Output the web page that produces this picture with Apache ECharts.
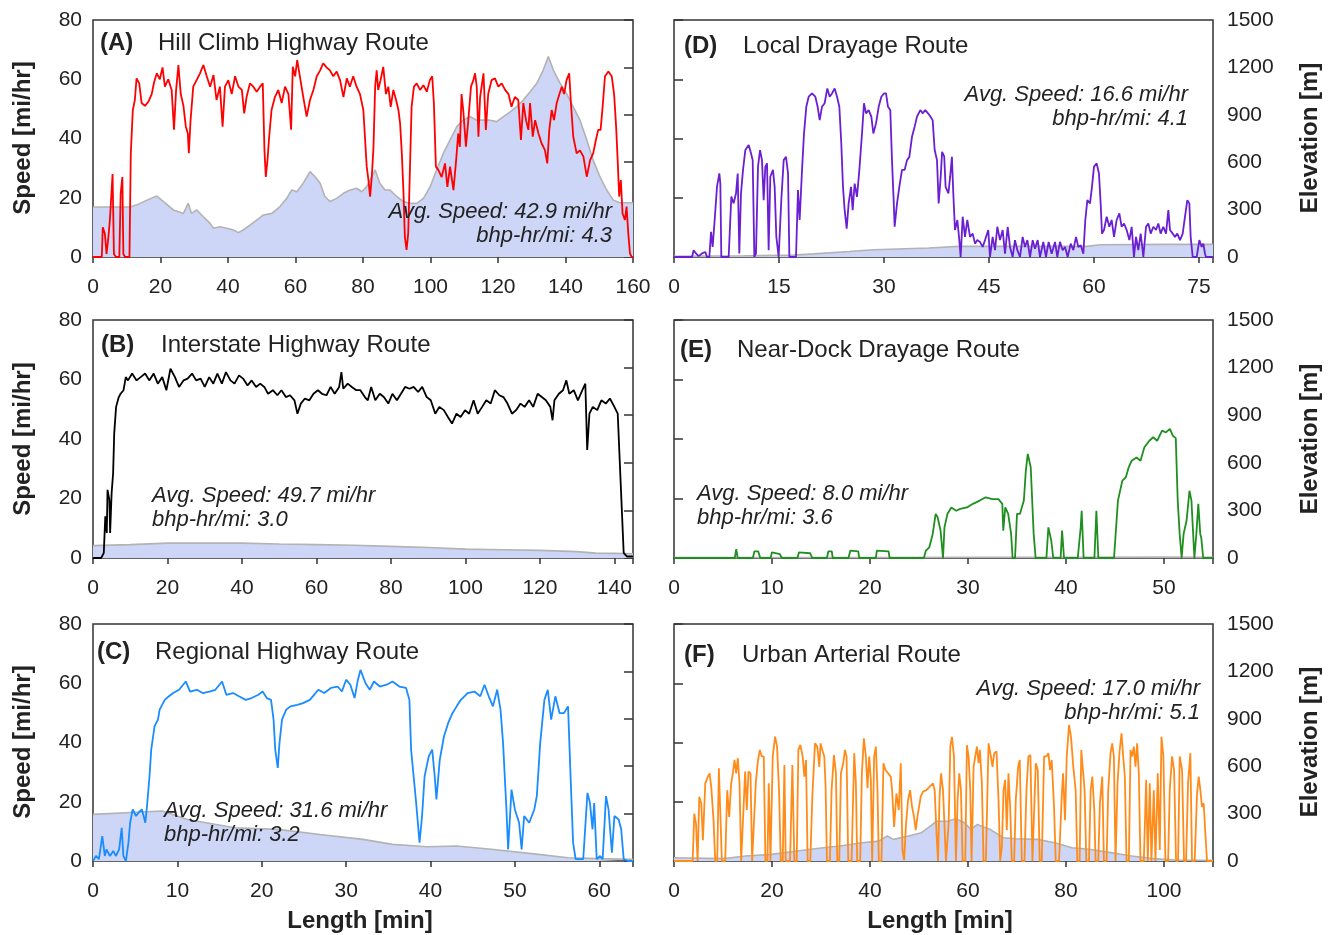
<!DOCTYPE html>
<html><head><meta charset="utf-8">
<script src="https://cdn.jsdelivr.net/npm/echarts@6/dist/echarts.min.js"></script>
<style>html,body{margin:0;padding:0;background:#fff}#c{width:1333px;height:935px}</style>
</head><body><div id="c"></div>
<script>
// ---------------- DATA (length [min], speed [mi/hr]) / (length [min], elevation [m]) ----------------
const speedA = [[0,0],[2.6,0],[2.9,10],[3.5,8],[4,1],[4.5,6],[5,12.5],[5.8,28],[6.2,1],[6.8,0],[7.8,0],[8.2,21.5],[8.7,27],[9,1],[9.5,0],[10.8,0],[11.2,35],[11.8,49.6],[12.4,53],[12.9,60.3],[13.7,58.6],[14.4,52],[15.4,51],[16.4,52.4],[17.4,55],[18.1,59],[18.9,62],[19.8,60],[20.6,64],[21.3,57.5],[22.3,60],[23.3,56.4],[24,43],[24.6,56],[25.3,64.8],[26,55],[26.8,51],[27.5,44],[28.1,41.7],[28.4,35],[28.9,46],[29.7,57.5],[30.7,59.7],[31.7,62],[32.7,64.8],[33.7,61],[34.7,57.5],[35.7,61.4],[36.6,53],[37.6,57.5],[38.4,44],[39.1,57.5],[40.1,59.7],[41.1,55],[42.1,61],[43.1,57.5],[44.1,56.4],[44.8,48.5],[45.5,54],[46.5,58.6],[47.5,57.5],[48.5,55.8],[49.5,57.5],[50.3,58.6],[50.8,36],[51.2,27],[51.7,32.7],[52.2,40.6],[52.9,49.6],[53.9,54],[54.9,56.4],[55.9,52],[56.9,57.5],[57.9,55],[58.7,43],[59.2,64.2],[59.9,61],[60.5,66.5],[61.3,61],[62.3,54],[63.3,47.4],[64.3,53],[65.3,56.4],[66.3,61],[67.3,63],[68.2,65.4],[69.2,64],[70.2,63],[71.2,61],[72.2,62.6],[73.2,59.7],[74.2,54],[75.2,60.3],[76.1,57.5],[77.1,61],[78.1,57.5],[79.1,55],[80.1,49.6],[81.1,30.5],[81.6,26],[82.1,20.4],[82.6,27],[83.1,37],[83.6,57.5],[84.05,63],[84.5,56.4],[85.2,59.7],[86,64.2],[86.8,55],[87.5,57.5],[88.2,50.7],[89,56.4],[89.8,53],[90.5,49.6],[91,45],[91.5,35],[92,21.5],[92.4,6.9],[92.9,2.4],[93.4,8],[93.9,29.4],[94.4,50.7],[95.1,57.5],[95.9,58.6],[96.9,56.4],[97.9,58],[98.9,55.8],[99.8,59.7],[100.5,61],[101,52],[101.6,30.5],[102.3,29.4],[103.3,27],[104.3,31.6],[105,23.7],[105.8,30.5],[106.8,22.6],[107.6,32.7],[108.2,41.7],[108.7,37.2],[109.2,55],[109.7,49.6],[110.5,37.2],[111.2,46.2],[112,57.5],[112.7,59.7],[113.2,62],[113.7,57.5],[114.2,40.6],[114.7,54],[115.7,62],[116.4,42.9],[117.1,55],[118.1,59.7],[119.1,60.3],[120.1,57.5],[121.1,58.6],[122.1,56.4],[123.1,55],[124,50.7],[125,54],[126,53],[126.8,39.5],[127.5,52],[128.3,46.2],[129,42.9],[129.5,52],[130.3,40.6],[131,46.2],[132,41.7],[132.9,38.4],[133.9,36.1],[134.6,31.6],[135.2,42.9],[135.9,49.6],[136.6,46.2],[137.4,52],[138.2,55],[138.9,57.5],[139.6,55],[140.3,59.7],[141.1,62],[141.6,52],[142.3,40.6],[143.3,35],[144.3,36],[145.3,33.9],[146.3,27.1],[147.3,32.7],[148.2,35],[149,39.5],[149.7,42.9],[150.4,42.9],[151,50.7],[151.7,61],[152.7,62.6],[153.7,61],[154.4,55],[155,44],[155.5,31.6],[155.9,20.4],[156.4,26],[156.9,14.7],[157.6,12.5],[158.1,17],[158.6,8],[159.1,1.2],[159.6,0],[160,0]];
const elevA = [[0,316],[11,316],[13,330],[16,360],[18.9,386],[20.9,351],[23.8,298],[26.8,276],[28.2,340],[29.2,276],[30.7,298],[32.7,255],[34.7,213],[35.7,182],[37.6,192],[39.6,182],[41.6,171],[43.1,154],[44.5,171],[46.5,202],[48.5,234],[50.5,266],[53,276],[55.4,319],[57.4,371],[58.9,424],[60.4,413],[62.3,467],[64.3,540],[65.8,508],[67.3,467],[68.7,383],[70.2,351],[72.2,371],[74.2,403],[76.2,424],[78.1,435],[79.6,413],[81.1,445],[83.6,551],[85,467],[86.5,424],[88,424],[90,383],[92,351],[93.9,340],[95.9,340],[97.9,371],[99.9,445],[101.8,551],[103.8,656],[105.8,741],[107.8,825],[109.7,866],[111.7,889],[113.7,866],[115.7,866],[117.6,866],[119.6,857],[121.6,889],[123.6,919],[125.5,950],[127.5,994],[129.5,1046],[131.5,1099],[133.4,1183],[134.9,1268],[136.4,1183],[138.4,1099],[140.3,1035],[142.3,950],[144.3,866],[146.3,741],[148.2,613],[150.2,508],[152.2,424],[154.2,360],[156.1,343],[160,343]];

const speedB = [[0,0],[2.2,0],[2.9,1.7],[3.3,14],[3.7,8.4],[3.9,22.9],[4.4,19.5],[4.6,8.4],[5,21.8],[5.4,28.5],[5.7,41.9],[6.2,50.8],[6.9,54],[7.4,55.2],[8.2,56.4],[8.8,60.8],[9.4,59.7],[10.5,62],[11.7,59.7],[12.8,60.8],[14,62],[15.1,59.7],[16.3,62],[17.4,58.6],[18.6,60.8],[19.7,56.4],[20.8,63.6],[22,60.8],[23.1,57.5],[24.3,59.7],[25.4,60.3],[26.6,62],[27.7,59.7],[28.9,60.3],[30,57.5],[31.2,60.8],[32.3,58.6],[33.4,62],[34.6,58.6],[35.7,62.5],[36.9,59.7],[38,58.6],[39.2,61.4],[40.3,60.3],[41.5,58],[42.6,59.7],[43.8,57.5],[44.9,58.6],[46,57.5],[47,55.2],[48.3,56.4],[49.5,54.7],[50.6,56.4],[51.8,54.1],[52.9,54.7],[54.1,53],[54.9,48.5],[55.8,51.9],[56.9,53.6],[58.1,53],[59.2,55.2],[60.4,56.4],[61.5,55.2],[62.7,54.7],[63.8,57.5],[64.9,55.2],[66.1,57.5],[66.7,62.5],[67.2,56.9],[68.4,58.6],[69.5,57.5],[70.7,56.4],[71.8,56.4],[73,54.1],[73.8,53],[74.7,57.5],[75.8,53],[77,55.2],[78.1,54.1],[79.3,51.9],[80.4,55.2],[81.6,53],[82.7,55.2],[83.8,57.5],[85,56.9],[86.1,57.5],[87.3,55.8],[88.4,57.5],[89.6,54.1],[90.7,53],[91.9,48.5],[93,50.8],[94.2,49.7],[95.3,47.4],[96.4,45.2],[97.6,48.5],[98.7,47.4],[99.9,49.7],[101,48.5],[102.2,53],[103.3,48.5],[104.5,50.8],[105.6,53],[106.8,51.9],[107.9,56.4],[109.1,54.7],[110.2,54.1],[111.3,51.9],[112.5,48.5],[113.6,49.7],[114.8,51.9],[115.9,50.8],[117.1,53],[118.2,50.8],[119.4,55.2],[120.5,54.1],[121.6,53],[122.8,50.8],[123.4,46.3],[123.9,53],[125.1,55.2],[126.2,56.4],[127.1,59.7],[127.9,55.2],[129.1,56.4],[130.2,53],[131.4,56.4],[132.2,58.6],[132.7,36.3],[133.3,48.5],[134.2,50.8],[135.4,49.7],[136.5,53],[137.7,51.9],[138.8,53.6],[140,50.8],[140.9,48.5],[141.7,25],[142.5,1.7],[143.4,0.5],[144.6,0.5],[145,0.5]];
const elevB = [[0,78],[10,84],[20,94],[30,94],[40,94],[50,88],[60,84],[70,80],[80,73],[90,66],[100,56],[110,52],[120,48],[130,40],[135,31],[140,29],[145,27]];

const speedC = [[0,0],[0.35,1.7],[0.7,0.6],[1.1,8.4],[1.4,1.7],[1.6,3.9],[2,1.7],[2.4,3.4],[2.7,1.7],[3.1,3.9],[3.4,11.2],[3.6,1.7],[3.9,0],[4.2,6.2],[4.4,12.9],[4.7,17.4],[5.1,15.2],[5.4,16.3],[5.8,17.4],[6.2,12.9],[6.4,18.5],[6.7,28.6],[6.9,37.6],[7.3,45.5],[7.7,47.7],[7.9,51.1],[8.5,54.4],[9,55.6],[9.5,56.7],[10.2,57.8],[11,60.6],[11.5,57.2],[12.3,57.8],[13,56.7],[13.8,57.2],[14.5,57.8],[15.3,60.6],[15.8,56.1],[16.6,56.7],[17.3,55.6],[18.1,54.4],[18.8,55],[19.6,56.1],[20.1,57.2],[20.6,55],[21.1,54.4],[21.4,47.7],[21.6,37.6],[21.9,31.4],[22.1,39.8],[22.4,47.7],[22.9,51.1],[23.4,52.2],[24.2,52.7],[24.9,53.3],[25.7,54.4],[26.2,56.1],[26.7,57.8],[27.4,56.7],[28.2,58.4],[29,58.9],[29.5,57.2],[30,61.2],[30.5,59.5],[31,55],[31.4,61.2],[31.7,64.5],[32.3,60],[32.8,57.8],[33.3,60.6],[34,58.9],[34.8,59.5],[35.5,60.6],[36.3,58.9],[37.1,58.4],[37.5,54.4],[37.7,37.6],[38,28.6],[38.3,19.6],[38.7,6.2],[39,15.2],[39.3,28.6],[39.8,35.4],[40.2,37.6],[40.5,28.6],[40.7,20.8],[41.1,34.2],[41.6,42.1],[42.1,46.6],[42.6,49.9],[43.1,52.2],[43.6,54.4],[44.4,56.7],[45.2,57.2],[45.9,55.6],[46.4,59.5],[46.9,55.6],[47.4,52.2],[47.9,57.8],[48.3,51.1],[48.6,39.8],[49,17.4],[49.2,3.9],[49.6,24.1],[50,17.4],[50.5,12.9],[50.8,3.9],[51.1,15.2],[51.7,12.9],[52.3,17.4],[52.6,21.9],[53,39.8],[53.5,54.4],[53.9,57.8],[54.3,47.7],[54.8,55.6],[55.3,49.9],[55.8,49.9],[56.3,52.2],[56.6,28.6],[56.9,6.2],[57.2,0.6],[58.1,0.6],[58.6,23],[58.9,19.6],[59.2,10.7],[59.4,19.6],[59.7,0.6],[60.1,1.7],[60.4,0.6],[60.8,21.9],[61.1,17.4],[61.5,2.8],[61.8,15.2],[62.3,14],[62.6,10.7],[62.9,0.6],[63.4,0],[64,0]];
const elevC = [[0,295],[8.2,316],[11.2,263],[16.8,210],[21.9,200],[26.9,168],[32,137],[35.5,105],[39.6,90],[43.1,95],[47.2,74],[52.8,42],[56.3,21],[60,15],[64,11]];

const speedD = [[0,0],[2.57,0],[2.81,2.3],[3.14,1.2],[3.52,0.3],[4,1.2],[4.48,1.7],[4.71,0],[5.05,0],[5.29,8.5],[5.52,3.4],[5.81,12.5],[6.14,23.7],[6.48,28.2],[6.62,24.8],[6.76,0],[7.81,0],[8.19,20.4],[8.52,18.1],[8.86,21.5],[9.1,28.2],[9.33,1.2],[9.57,21.5],[9.86,29.4],[10.19,36.1],[10.67,37.8],[11,35],[11.24,32.7],[11.48,0],[11.71,1.2],[12,30.5],[12.29,36.1],[12.57,32.7],[12.81,19.2],[13.05,30.5],[13.29,31.6],[13.52,2.3],[13.76,27.1],[14.14,29.4],[14.38,23.7],[14.62,6.8],[14.95,0],[15.33,19.2],[15.67,32.7],[16,33.8],[16.29,28.2],[16.48,0],[17.43,0],[17.71,22.6],[17.95,12.5],[18.29,29.4],[18.57,41.7],[18.9,50.7],[19.24,54.1],[19.71,55.2],[20.19,54.1],[20.52,50.7],[20.81,46.2],[21.14,50.7],[21.52,51.9],[21.9,56.9],[22.24,54.1],[22.57,55.2],[22.95,56.9],[23.29,54.1],[23.62,50.7],[23.9,38.3],[24.14,23.7],[24.38,15.8],[24.67,9.6],[24.95,18.1],[25.29,23.7],[25.52,15.8],[25.81,24.8],[26.14,20.3],[26.48,29.4],[26.86,41.7],[27.14,51.9],[27.43,48.5],[27.81,49.6],[28.19,47.4],[28.48,41.7],[28.86,45.1],[29.24,50.7],[29.62,54.1],[30,55.2],[30.29,55.2],[30.57,50.7],[30.9,49.6],[31.14,32.7],[31.38,19.2],[31.52,10.2],[31.86,18.1],[32.19,23.7],[32.57,29.4],[32.95,29.4],[33.29,32.7],[33.62,33.8],[34,40.6],[34.38,44],[34.71,47.4],[35.19,49.6],[35.52,48.5],[35.9,49.6],[36.29,48.5],[36.62,47.4],[36.95,46.2],[37.24,36.1],[37.57,32.7],[37.81,18.1],[38.1,27.1],[38.3,35.5],[38.6,34],[38.8,23.7],[39.2,21.5],[39.45,27.1],[39.7,33.8],[39.9,21.5],[40.14,9.1],[40.48,12.5],[40.76,5.7],[40.95,0],[41.24,13.6],[41.57,6.8],[41.9,12.5],[42.29,6.8],[42.67,7.9],[43,4.5],[43.33,5.7],[43.71,5.1],[44.1,3.4],[44.43,5.7],[44.9,9.1],[45.14,0],[45.52,6.8],[45.86,2.3],[46.19,10.2],[46.57,5.7],[46.95,9.1],[47.29,1.1],[47.67,10.2],[48,3.4],[48.38,0],[48.71,5.7],[49.05,2.3],[49.43,0],[49.81,6.8],[50.14,3.4],[50.48,5.7],[50.86,0],[51.24,5.7],[51.57,2.8],[51.95,5.7],[52.29,0],[52.76,5.1],[53.14,0],[53.52,5.1],[53.95,1.1],[54.43,5.1],[54.76,0],[55.14,5.1],[55.52,2.3],[55.86,3.4],[56.24,0],[56.67,4.5],[57.05,2.3],[57.43,6.8],[57.76,3.4],[58.1,4],[58.48,1.1],[58.76,12.5],[59.05,19.2],[59.43,18.1],[59.71,23.7],[60,30.5],[60.38,31.6],[60.71,28.2],[60.95,18.1],[61.14,7.9],[61.43,9.1],[61.81,13.6],[62.19,10.2],[62.52,12.5],[62.86,6.8],[63.24,12.5],[63.62,14.7],[63.95,10.2],[64.29,11.3],[64.67,9.1],[65.05,5.7],[65.38,10.2],[65.71,0],[66,6.8],[66.33,2.3],[66.67,7.9],[67.05,0],[67.43,10.2],[67.76,11.3],[68.1,7.9],[68.48,10.2],[68.86,9.1],[69.19,11.3],[69.52,7.9],[69.9,10.2],[70.29,7.9],[70.62,15.8],[70.86,9.1],[71.24,7.9],[71.57,6.8],[71.9,7.9],[72.29,5.7],[72.67,7.9],[73,13.6],[73.33,19.2],[73.62,18.1],[73.81,6.8],[74.1,0],[74.67,0],[75.05,5.7],[75.38,3.4],[75.62,4.5],[75.86,1.1],[76,0],[77,0]];
const elevD = [[0,5],[10,8],[17,12],[20,20],[25,35],[28.5,46],[33,52],[36.4,57],[40.7,67],[50,67],[59,67],[60.8,78],[70,80],[77,80]];

const speedE = [[0,0],[6.2,0],[6.35,3],[6.5,0],[8.05,0],[8.2,2.2],[8.6,2.2],[8.8,0],[9.85,0],[10,1.9],[10.8,1.3],[11,0],[12.6,0],[12.75,1.9],[13.9,1.6],[14.1,0],[15.6,0],[15.75,2.2],[16.1,2.2],[16.2,0],[17.8,0],[18,2.5],[18.8,2.2],[18.9,0],[20.6,0],[20.7,2.5],[21.9,2.2],[22,0],[25.5,0],[25.7,2.5],[26.05,3.6],[26.4,8.1],[26.7,14.8],[26.9,13.7],[27.2,9.2],[27.45,0],[27.6,10.3],[27.9,14.8],[28.3,17],[28.8,15.9],[29.2,16.5],[29.9,17],[30.5,18.2],[31.2,19.3],[31.8,20.4],[32.5,19.8],[33.1,19.8],[33.5,18.2],[33.6,9.2],[33.8,17],[34.1,14.8],[34.4,8.1],[34.55,0],[34.8,0],[35,14.8],[35.3,14.8],[35.7,19.3],[35.9,29.4],[36.1,35],[36.4,30.5],[36.7,8.1],[36.9,0],[38,0],[38.2,10.3],[38.5,5.8],[38.7,0],[39.45,0],[39.6,9.2],[39.8,0],[41.2,0],[41.5,10.3],[41.6,15.9],[41.8,0],[42.9,0],[43.1,15.9],[43.3,0],[44.9,0],[45.3,19.3],[45.75,26],[46.1,27.1],[46.4,30.5],[46.7,32.7],[47.2,33.8],[47.6,32.7],[48,37.2],[48.5,39.4],[48.9,40.6],[49.3,39.4],[49.8,42.8],[50.2,42.2],[50.6,43.4],[50.9,41.1],[51.2,40.3],[51.4,19.3],[51.6,8.1],[51.8,0],[52,8.1],[52.3,12.5],[52.6,22.6],[52.8,19.3],[53.1,0],[53.3,8.1],[53.5,18.2],[53.7,8.1],[53.8,6.9],[54,0],[55,0]];
const elevE = [[0,3],[20,3],[30,5],[40,5],[50,6],[55,5]];

const speedF = [[0,0],[3.8,0],[4.14,16],[4.48,12.7],[4.82,0],[5.16,21.7],[5.56,19.5],[5.9,7],[6.38,26.2],[6.92,28.5],[7.26,29.6],[7.6,25.1],[8.07,13.8],[8.41,0],[8.82,0],[9.16,31.3],[9.5,13.8],[9.77,0],[10.45,0],[10.86,23.9],[11.26,14.9],[11.67,26.2],[12.01,29.6],[12.35,34.1],[12.69,29.6],[13.03,34.7],[13.37,26.2],[13.71,0],[14.11,0],[14.52,30.2],[14.86,17.2],[15.2,30.2],[15.61,29.6],[15.95,0],[16.29,0],[16.69,26.2],[17.1,33.5],[17.51,37.5],[17.91,35.3],[18.32,35.3],[18.66,0],[19.07,0],[19.34,26.2],[19.68,0],[20.15,35.3],[20.63,42],[21.03,38.6],[21.44,23.9],[21.78,0],[22.19,0],[22.53,32.4],[22.8,0],[23.68,0],[24.16,32.4],[24.56,0],[25.04,0],[25.38,37.5],[25.78,39.2],[26.26,35.3],[26.6,28.5],[26.94,34.1],[27.28,0],[27.82,0],[28.23,21.7],[28.77,39.7],[29.25,38.6],[29.65,31.8],[29.92,39.7],[30.26,37.5],[30.67,35.3],[30.94,25.1],[31.21,0],[31.82,0],[32.16,23.9],[32.64,35.8],[33.05,29.6],[33.32,0],[33.73,0],[34.06,29.6],[34.54,33],[34.88,37.5],[35.22,35.3],[35.56,0],[36.24,0],[36.78,36.4],[37.12,26.2],[37.39,0],[38,0],[38.34,29.6],[38.75,41.4],[39.15,35.3],[39.49,24.6],[39.83,35.3],[40.17,27.4],[40.44,0],[40.85,35.3],[41.2,38.6],[41.53,23.9],[41.8,0],[42.34,0],[42.75,33],[43.16,30.7],[43.7,29.6],[44.24,28.5],[44.51,23.9],[44.92,11.5],[45.39,22.8],[45.87,17.2],[46.28,33],[46.62,3.7],[46.96,0.3],[47.36,12.7],[47.77,20.6],[48.18,23.9],[48.58,18.3],[48.99,14.9],[49.33,10.4],[49.67,14.9],[50.01,18.3],[50.35,21.7],[50.82,23.4],[51.5,23.9],[52.18,25.1],[52.86,26.2],[53.2,23.9],[53.61,8.1],[53.88,0],[54,0],[54.2,21.7],[54.5,29.6],[54.9,23.9],[55.5,0],[56.05,12.7],[56.39,38.6],[56.73,41.9],[57.13,35.3],[57.54,0],[57.88,20.6],[58.22,29.6],[58.56,23.9],[58.9,0],[59.44,0],[59.78,39.1],[60.12,35.3],[60.46,23.9],[60.73,0],[61.14,31.8],[61.48,35.3],[61.82,38.6],[62.16,33],[62.43,37.5],[62.83,26.2],[63.17,0],[63.65,0],[64.19,39.7],[64.67,35.3],[65.01,31.8],[65.35,36.4],[65.82,37],[66.23,20.6],[66.57,0],[66.91,4.8],[67.25,23.9],[67.58,27.4],[67.92,10.4],[68.26,29.6],[68.6,18.3],[68.94,0],[69.42,0],[69.75,20.6],[70.23,31.8],[70.57,34.1],[70.98,0],[71.52,0],[71.93,23.9],[72.33,35.3],[72.74,35.8],[73.15,0],[73.49,0],[73.83,33],[74.24,30.7],[74.64,0],[75.05,0],[75.53,35.3],[76,35.3],[76.41,36.4],[76.75,30.7],[77.09,34.1],[77.56,18.3],[77.9,0],[78.58,0],[79.13,21.7],[79.4,29.6],[79.8,13.8],[80.15,35.3],[80.62,45.9],[81.02,41.9],[81.49,31.8],[81.97,23.9],[82.31,0],[82.78,0],[83.12,37.5],[83.46,30.7],[83.8,23.9],[84.14,0],[84.69,0],[85.03,23.9],[85.37,28.5],[85.77,17.2],[86.04,0],[86.59,0],[86.92,19.5],[87.4,28.5],[87.74,0],[88.28,0],[88.62,23.9],[89.09,36.4],[89.43,39.7],[89.77,35.3],[90.11,0],[90.52,26.2],[90.93,37],[91.33,43.1],[91.67,35.3],[92.01,28.5],[92.35,0],[92.83,0],[93.17,37.5],[93.51,35.3],[93.85,38.6],[94.18,31.8],[94.52,39.7],[94.86,29.6],[95.2,0],[95.88,0],[96.36,27.4],[96.7,0],[97.1,26.2],[97.44,0],[97.92,23.9],[98.26,0],[98.73,29.6],[99.14,3.7],[99.48,41.9],[99.88,35.3],[100.29,0],[100.84,0],[101.17,23.9],[101.65,35.3],[102.06,30.7],[102.46,0],[102.87,0],[103.21,35.3],[103.69,30.7],[104.09,0],[104.5,0],[104.91,26.2],[105.38,36.4],[105.72,0],[106.27,0],[106.74,22.8],[107.08,28.5],[107.42,23.9],[107.76,18.3],[108.1,19.5],[108.44,9.3],[108.78,0],[110,0]];
const elevF = [[0,21],[10.2,15],[14.6,32],[19.9,42],[25.1,63],[30.4,84],[33.9,95],[38.3,116],[41.8,126],[43.5,158],[44.8,137],[47.9,158],[50.5,179],[52.3,221],[53.6,252],[55.8,252],[57.5,267],[59.3,242],[60.6,200],[61.9,231],[64.5,200],[67.2,147],[69.8,141],[74.2,137],[77.7,116],[81.2,84],[84.7,74],[89.1,53],[93.4,32],[97.8,15],[102.2,6],[110,4]];

const panelLetters = ['(A)','(B)','(C)','(D)','(E)','(F)'];
const routeNames = ['Hill Climb Highway Route','Interstate Highway Route','Regional Highway Route','Local Drayage Route','Near-Dock Drayage Route','Urban Arterial Route'];
const avgSpeedTexts = ['Avg. Speed: 42.9 mi/hr','Avg. Speed: 49.7 mi/hr','Avg. Speed: 31.6 mi/hr','Avg. Speed: 16.6 mi/hr','Avg. Speed: 8.0 mi/hr','Avg. Speed: 17.0 mi/hr'];
const bhpTexts = ['bhp-hr/mi: 4.3','bhp-hr/mi: 3.0','bhp-hr/mi: 3.2','bhp-hr/mi: 4.1','bhp-hr/mi: 3.6','bhp-hr/mi: 5.1'];
const xMaxes = [160,145,64,77,55,110];
const xIntervals = [20,20,10,15,10,20];
const speedRange = [0,80,20];
const elevRange = [0,1500,300];

// ---------------- LAYOUT / STYLE ----------------
const FONT = '"Liberation Sans", Arial, Helvetica, sans-serif';
const speeds = [speedA,speedB,speedC,speedD,speedE,speedF];
const elevs = [elevA,elevB,elevC,elevD,elevE,elevF];
const colors = ['#ff0000','#000000','#1a8cff','#6a1fd2','#1f8f1f','#ff8c1a'];
const grids = [
  {left:93, top:20, width:540, height:237},
  {left:93, top:320, width:540, height:238},
  {left:93, top:624, width:540, height:237},
  {left:674, top:20, width:539, height:237},
  {left:674, top:320, width:539, height:238},
  {left:674, top:624, width:539, height:237}
];
const titlePos = [[100,43,158],[101,345,161],[97,652,155],[684,46,743],[680,350,737],[684,655,742]];
const annoPos = [[612,212,'right'],[152,496,'left'],[164,811,'left'],[1188,95,'right'],[697,494,'left'],[1200,689,'right']];

const option = {
  animation:false,
  backgroundColor:'#ffffff',
  grid: grids.map(g => Object.assign({show:true, borderColor:'#333', borderWidth:1.5, backgroundColor:'transparent'}, g)),
  xAxis: [], yAxis: [], series: [], graphic: []
};

for (let i = 0; i < 6; i++) {
  const leftSide = i < 3;
  const xi = xIntervals[i];
  option.xAxis.push({
    gridIndex:i, type:'value', min:0, max:xMaxes[i], interval:xi,
    axisLine:{show:false},
    axisTick:{show:true, inside:false, length:6, lineStyle:{color:'#333', width:1.5}},
    axisLabel:{show:true, margin:20, fontSize:21, color:'#222', fontFamily:FONT,
      formatter: v => (Math.abs(v % xi) < 1e-9 ? String(v) : '')},
    splitLine:{show:false}
  });
  option.yAxis.push({
    gridIndex:i, type:'value', min:speedRange[0], max:speedRange[1], interval:speedRange[2], position:'left',
    axisLine:{show:false},
    axisTick: leftSide ? {show:false} : {show:true, inside:true, length:9, lineStyle:{color:'#333', width:1.5}},
    axisLabel: leftSide ? {show:true, margin:11, fontSize:21, color:'#222', fontFamily:FONT, formatter: v => String(v)} : {show:false},
    splitLine:{show:false}
  });
  option.yAxis.push({
    gridIndex:i, type:'value', min:elevRange[0], max:elevRange[1], interval:elevRange[2], position:'right',
    axisLine:{show:false},
    axisTick: leftSide ? {show:true, inside:true, length:9, lineStyle:{color:'#333', width:1.5}} : {show:false},
    axisLabel: leftSide ? {show:false} : {show:true, margin:14, fontSize:21, color:'#222', fontFamily:FONT, formatter: v => String(v)},
    splitLine:{show:false}
  });
  option.series.push({
    type:'line', xAxisIndex:i, yAxisIndex:2*i+1, data:elevs[i], showSymbol:false, symbol:'none',
    lineStyle:{color:'#b3b3b3', width:1.6}, areaStyle:{color:'#cdd6f6', opacity:1}, z:2, silent:true
  });
  option.series.push({
    type:'line', xAxisIndex:i, yAxisIndex:2*i, data:speeds[i], showSymbol:false, symbol:'none',
    lineStyle:{color:colors[i], width:1.8}, z:3, silent:true
  });

  const tp = titlePos[i];
  option.graphic.push({type:'text', z:100, style:{text:panelLetters[i], x:tp[0], y:tp[1], fill:'#222',
    font:'bold 24px ' + FONT, textAlign:'left', textVerticalAlign:'middle', align:'left', verticalAlign:'middle'}});
  option.graphic.push({type:'text', z:100, style:{text:routeNames[i], x:tp[2], y:tp[1], fill:'#222',
    font:'24px ' + FONT, textAlign:'left', textVerticalAlign:'middle', align:'left', verticalAlign:'middle'}});
  const ap = annoPos[i];
  option.graphic.push({type:'text', z:100, style:{text:avgSpeedTexts[i], x:ap[0], y:ap[1], fill:'#222',
    font:'italic 22px ' + FONT, textAlign:ap[2], textVerticalAlign:'middle', align:ap[2], verticalAlign:'middle'}});
  option.graphic.push({type:'text', z:100, style:{text:bhpTexts[i], x:ap[0], y:ap[1]+24, fill:'#222',
    font:'italic 22px ' + FONT, textAlign:ap[2], textVerticalAlign:'middle', align:ap[2], verticalAlign:'middle'}});
}

const speedNameY = [138, 439, 742];
speedNameY.forEach(y => option.graphic.push({type:'text', x:23, y:y, rotation:Math.PI/2, z:100,
  style:{text:'Speed [mi/hr]', x:0, y:0, fill:'#222', font:'bold 24px ' + FONT,
    textAlign:'center', textVerticalAlign:'middle', align:'center', verticalAlign:'middle'}}));
const elevNameY = [138, 439, 742];
elevNameY.forEach(y => option.graphic.push({type:'text', x:1310, y:y, rotation:Math.PI/2, z:100,
  style:{text:'Elevation [m]', x:0, y:0, fill:'#222', font:'bold 24px ' + FONT,
    textAlign:'center', textVerticalAlign:'middle', align:'center', verticalAlign:'middle'}}));
[[360,921],[940,921]].forEach(p => option.graphic.push({type:'text', z:100,
  style:{text:'Length [min]', x:p[0], y:p[1], fill:'#222', font:'bold 24px ' + FONT,
    textAlign:'center', textVerticalAlign:'middle', align:'center', verticalAlign:'middle'}}));

const chart = echarts.init(document.getElementById('c'), null, {renderer:'canvas'});
chart.setOption(option);
</script>
</body></html>
